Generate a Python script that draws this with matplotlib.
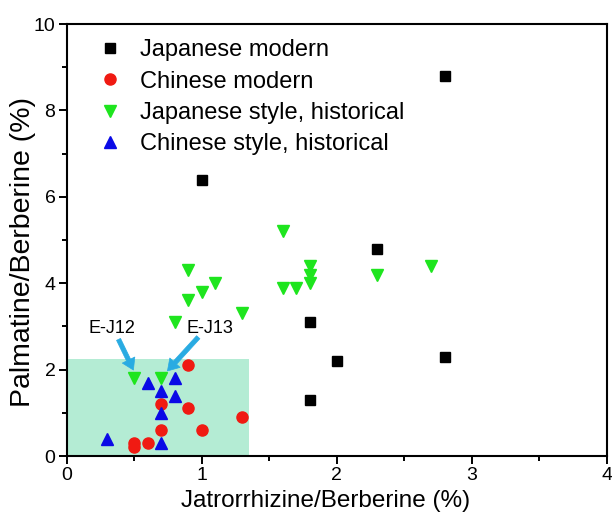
import numpy as np
import matplotlib
matplotlib.use("Agg")
import matplotlib.pyplot as plt
from matplotlib.patches import Rectangle
from matplotlib.ticker import MultipleLocator

plt.rcParams["font.family"] = ["Liberation Sans", "DejaVu Sans"]

# data
jp_modern_x = [1.0, 2.8, 2.3, 1.8, 2.0, 2.8, 1.8]
jp_modern_y = [6.4, 8.8, 4.8, 3.1, 2.2, 2.3, 1.3]

cn_modern_x = [0.9, 0.7, 0.9, 1.3, 0.7, 1.0, 0.6, 0.5, 0.5]
cn_modern_y = [2.1, 1.2, 1.1, 0.9, 0.6, 0.6, 0.3, 0.3, 0.2]

jp_hist_x = [0.9, 1.1, 1.0, 0.9, 1.3, 0.8, 0.5, 0.7,
             1.6, 1.8, 1.8, 1.8, 1.6, 1.7, 2.3, 2.7]
jp_hist_y = [4.3, 4.0, 3.8, 3.6, 3.3, 3.1, 1.8, 1.8,
             5.2, 4.4, 4.2, 4.0, 3.9, 3.9, 4.2, 4.4]

cn_hist_x = [0.6, 0.8, 0.7, 0.8, 0.7, 0.3, 0.7]
cn_hist_y = [1.7, 1.8, 1.5, 1.4, 1.0, 0.4, 0.3]

# shaded region (x extent, y extent)
region_w = 1.35
region_h = 2.25

labels = ["Japanese modern", "Chinese modern",
          "Japanese style, historical", "Chinese style, historical"]

# sample labels: text position, arrow tail, arrow head
samples = ["E-J12", "E-J13"]
sample_text = [(0.333, 2.96), (1.065, 2.96)]
sample_tail = [(0.385, 2.70), (0.975, 2.75)]
sample_head = [(0.495, 1.99), (0.747, 1.97)]

fig = plt.figure(figsize=(6.12, 5.14), dpi=100)
ax = fig.add_axes([0.1087, 0.1128, 0.8831, 0.8405])

ax.add_patch(Rectangle((0, 0), region_w, region_h, fc="#b4ecd4", ec="none", zorder=0))

ax.plot(jp_modern_x, jp_modern_y, "s", color="k", ms=7, ls="none", label=labels[0], zorder=3)
ax.plot(cn_modern_x, cn_modern_y, "o", color="#f01a12", ms=8, ls="none", label=labels[1], zorder=3)
ax.plot(jp_hist_x, jp_hist_y, "v", color="#1ee51e", ms=9, ls="none", label=labels[2], zorder=3)
ax.plot(cn_hist_x, cn_hist_y, "^", color="#0a0ae6", ms=9, ls="none", label=labels[3], zorder=3)

# labelled samples
for name, txt, tail, head in zip(samples, sample_text, sample_tail, sample_head):
    ax.text(txt[0], txt[1], name, fontsize=13, ha="center", va="center")
    ax.annotate("", xy=head, xytext=tail,
                arrowprops=dict(arrowstyle="simple,head_width=1.0,head_length=0.8,tail_width=0.32",
                                color="#29abe2", lw=0.5, mutation_scale=10,
                                shrinkA=0, shrinkB=0), zorder=4)

ax.set_xlim(0, 4)
ax.set_ylim(0, 10)
ax.xaxis.set_major_locator(MultipleLocator(1))
ax.xaxis.set_minor_locator(MultipleLocator(0.5))
ax.yaxis.set_major_locator(MultipleLocator(2))
ax.yaxis.set_minor_locator(MultipleLocator(1))
ax.tick_params(which="major", direction="out", length=6, width=1.4, labelsize=14, pad=2)
ax.tick_params(which="minor", direction="out", length=3.5, width=1.4)
for s in ax.spines.values():
    s.set_linewidth(1.5)

ax.set_xlabel("Jatrorrhizine/Berberine (%)", fontsize=17.5)
ax.set_ylabel("Palmatine/Berberine (%)", fontsize=20.5)
ax.xaxis.set_label_coords(0.48, -0.078)
ax.yaxis.set_label_coords(-0.056, 0.473)

ax.legend(loc="upper left", bbox_to_anchor=(0.059, 0.965), frameon=False,
          fontsize=17, handlelength=1.0, handletextpad=0.75, labelspacing=0.4,
          borderaxespad=0, borderpad=0, numpoints=1)

fig.savefig("out.png", dpi=100)
